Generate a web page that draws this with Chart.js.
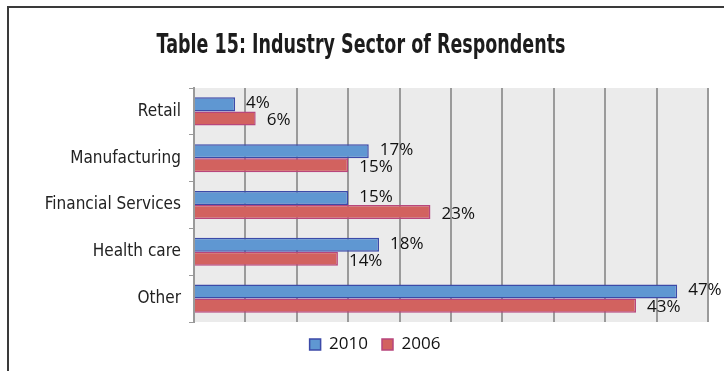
<!DOCTYPE html>
<html>
<head>
<meta charset="utf-8">
<script src="https://cdn.jsdelivr.net/npm/chart.js@4.4.1/dist/chart.umd.min.js"></script>
<style>
  html, body { margin: 0; padding: 0; background: #fff; }
  #wrap { position: relative; width: 724px; height: 371px; overflow: hidden; }
  #frame {
    position: absolute; left: 7px; top: 6px; width: 740px; height: 400px;
    border-left: 2px solid #3a3a3a; border-top: 2px solid #3a3a3a;
  }
  #box { position: absolute; left: 0; top: 0; width: 724px; height: 371px; }
</style>
</head>
<body>
<div id="wrap">
  <div id="frame"></div>
  <div id="box"><canvas id="barChart"></canvas></div>
</div>
<script>
// Chart data

const sectors = ['Retail', 'Manufacturing', 'Financial Services', 'Health care', 'Other'];
const share2010 = [4, 17, 15, 18, 47];
const share2006 = [6, 15, 23, 14, 43];
const seriesNames = ['2010', '2006'];
const chartTitle = 'Table 15: Industry Sector of Respondents';
const axisMax = 50;
const axisStep = 5;

// Plugins

const plotBackground = {
    id: 'plotBackground',
    beforeDraw(chart) {
        const { ctx, chartArea: a } = chart;
        ctx.save();
        ctx.fillStyle = '#ebebeb';
        ctx.fillRect(a.left, a.top, a.right - a.left, a.bottom - a.top);
        ctx.restore();
    }
};

// heavy condensed title, squeezed to the width of the original
const condensedTitle = {
    id: 'condensedTitle',
    afterDraw(chart) {
        const { ctx } = chart;
        ctx.save();
        ctx.font = 'bold 27px "DejaVu Sans", sans-serif';
        const w = ctx.measureText(chartTitle).width;
        const target = 409;
        ctx.translate(361, 53);
        ctx.scale(target / w, 1);
        ctx.fillStyle = '#1c1c1c';
        ctx.textAlign = 'center';
        ctx.textBaseline = 'alphabetic';
        ctx.fillText(chartTitle, 0, 0);
        ctx.restore();
    }
};

// percent labels next to the end of each bar
const barLabels = {
    id: 'barLabels',
    afterDatasetsDraw(chart) {
        const { ctx } = chart;
        ctx.save();
        ctx.font = '17px "Open Sans", sans-serif';
        ctx.fillStyle = '#111';
        ctx.textBaseline = 'middle';
        chart.data.datasets.forEach((ds, i) => {
            const shift = i === 0 ? -1 : 2;
            chart.getDatasetMeta(i).data.forEach((bar, j) => {
                ctx.fillText(ds.data[j] + '%', bar.x + 11, bar.y + shift);
            });
        });
        ctx.restore();
    }
};

// Chart config

const barChart = document.getElementById('barChart');

const myBarChart = new Chart(barChart, {
    type: 'bar',
    data: {
        labels: sectors,
        datasets: [
            {
              label: seriesNames[0],
              data: share2010,
              backgroundColor: '#5f97d2',
              borderColor: '#3c4aa8',
              borderWidth: 1.5,
            },
            {
              label: seriesNames[1],
              data: share2006,
              backgroundColor: '#d2625f',
              borderColor: '#b8467c',
              borderWidth: 1.5,
            },
        ],
    },
    options: {
      indexAxis: 'y',
      responsive: true,
      maintainAspectRatio: false,
      animation: false,
      categoryPercentage: 0.6,
      barPercentage: 1.0,
      layout: { padding: { top: 88, right: 16, bottom: 8, left: 42 } },
      scales: {
        x: {
          min: 0,
          max: axisMax,
          ticks: { display: false, stepSize: axisStep },
          grid: { color: '#9a9a9a', lineWidth: 2, drawTicks: false },
          border: { display: false },
        },
        y: {
          afterFit(scale) { scale.width = 152; },
          ticks: {
            color: '#222',
            padding: 8,
            font: { family: '"DejaVu Sans Condensed", sans-serif', size: 17 },
          },
          grid: { offset: true, drawOnChartArea: false, tickLength: 5, color: '#9a9a9a' },
          border: { display: true, color: '#9a9a9a', width: 2 },
        },
      },
      plugins: {
        title: { display: false },
        legend: {
          position: 'bottom',
          labels: {
            color: '#111',
            boxWidth: 11,
            boxHeight: 11,
            padding: 14,
            font: { family: '"Open Sans", sans-serif', size: 17 },
          },
        },
        tooltip: { enabled: false },
      },
    },
    plugins: [plotBackground, barLabels, condensedTitle],
});
</script>
</body>
</html>
